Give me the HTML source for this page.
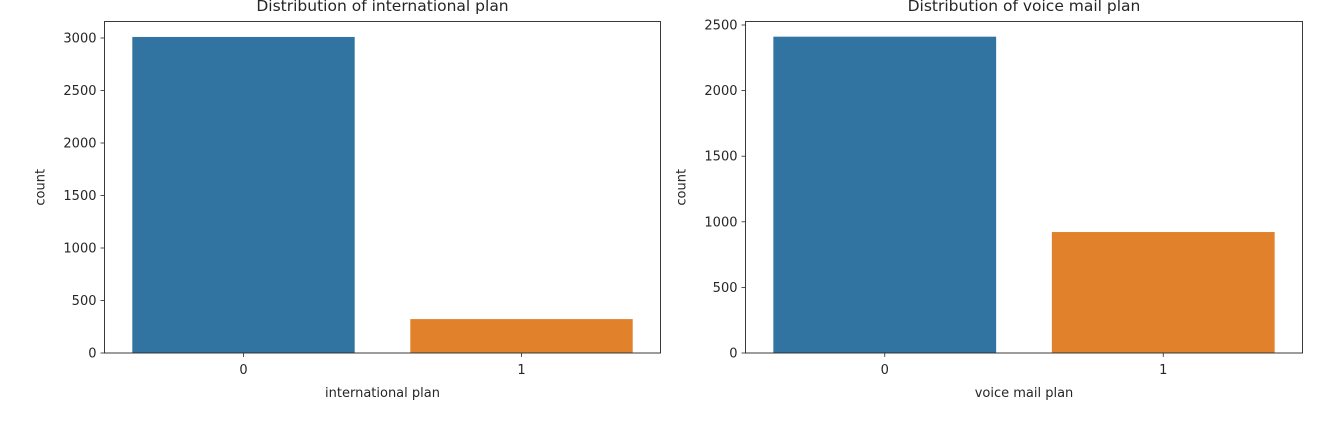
<!DOCTYPE html>
<html><head><meta charset="utf-8"><style>
html,body{margin:0;padding:0;background:#fff;}
svg text{font-family:"DejaVu Sans","Liberation Sans",sans-serif;fill:#262626;}
</style></head><body>
<svg width="1329" height="434" xmlns="http://www.w3.org/2000/svg">
<g id="root"></g>
</svg>
<script>
const categories = ["0","1"];
const intlValues = [3010, 323];
const vmailValues = [2411, 922];
const intlTicks = [0,500,1000,1500,2000,2500,3000];
const vmailTicks = [0,500,1000,1500,2000,2500];
const colors = ["#3274a1","#e1812c"];
const NS = "http://www.w3.org/2000/svg";
const root = document.getElementById('root');
function mk(tag, attrs, parent){const e=document.createElementNS(NS,tag);for(const k in attrs)e.setAttribute(k,attrs[k]);(parent||root).appendChild(e);return e;}
function panel(name, x0, x1, y0, y1, vals, ticks, yMax, title, xlabel){
  const g = mk('g',{});
  
  
  const ys = v => y1 - (v / yMax) * (y1 - y0);
  const step = (x1 - x0) / categories.length;
  const bw = step * 0.8;
  categories.forEach((c,i)=>{
    const cx = x0 + step*(i+0.5);
    const r = mk('rect',{x:cx-bw/2,y:ys(vals[i]),width:bw,height:y1-ys(vals[i]),fill:colors[i]},g);
    
    
    mk('line',{x1:cx,x2:cx,y1:y1,y2:y1+4,stroke:'#262626','stroke-width':0.8},g);
    const t = mk('text',{x:cx,y:y1+21,'text-anchor':'middle','font-size':13},g);
    t.textContent = c;
    
    
  });
  ticks.forEach(v=>{
    const y = ys(v);
    mk('line',{x1:x0-4,x2:x0,y1:y,y2:y,stroke:'#262626','stroke-width':0.8},g);
    const t = mk('text',{x:x0-8,y:y+4.5,'text-anchor':'end','font-size':13},g);
    t.textContent = v;
    
    
  });
  const fr = mk('rect',{x:x0,y:y0,width:x1-x0,height:y1-y0,fill:'none',stroke:'#262626','stroke-width':0.9},g);
  
  
  const tt = mk('text',{x:(x0+x1)/2,y:11,'text-anchor':'middle','font-size':15.5},g);
  tt.textContent = title;
  
  
  const xl = mk('text',{x:(x0+x1)/2,y:y1+44,'text-anchor':'middle','font-size':13},g);
  xl.textContent = xlabel;
  
  
  const yl = mk('text',{x:0,y:0,'text-anchor':'middle','font-size':13,transform:`translate(${x0-60},${(y0+y1)/2}) rotate(-90)`},g);
  yl.textContent = 'count';
  
  
}
const yMaxL = 3000*(353-21.5)/(353-38);
const yMaxR = 2500*(353-21.5)/(353-25);
panel('international-plan-panel',104.5,660.5,21.5,353,intlValues,intlTicks,yMaxL,'Distribution of international plan','international plan');
panel('voice-mail-plan-panel',745.5,1302.5,21.5,353,vmailValues,vmailTicks,yMaxR,'Distribution of voice mail plan','voice mail plan');
</script>
</body></html>
